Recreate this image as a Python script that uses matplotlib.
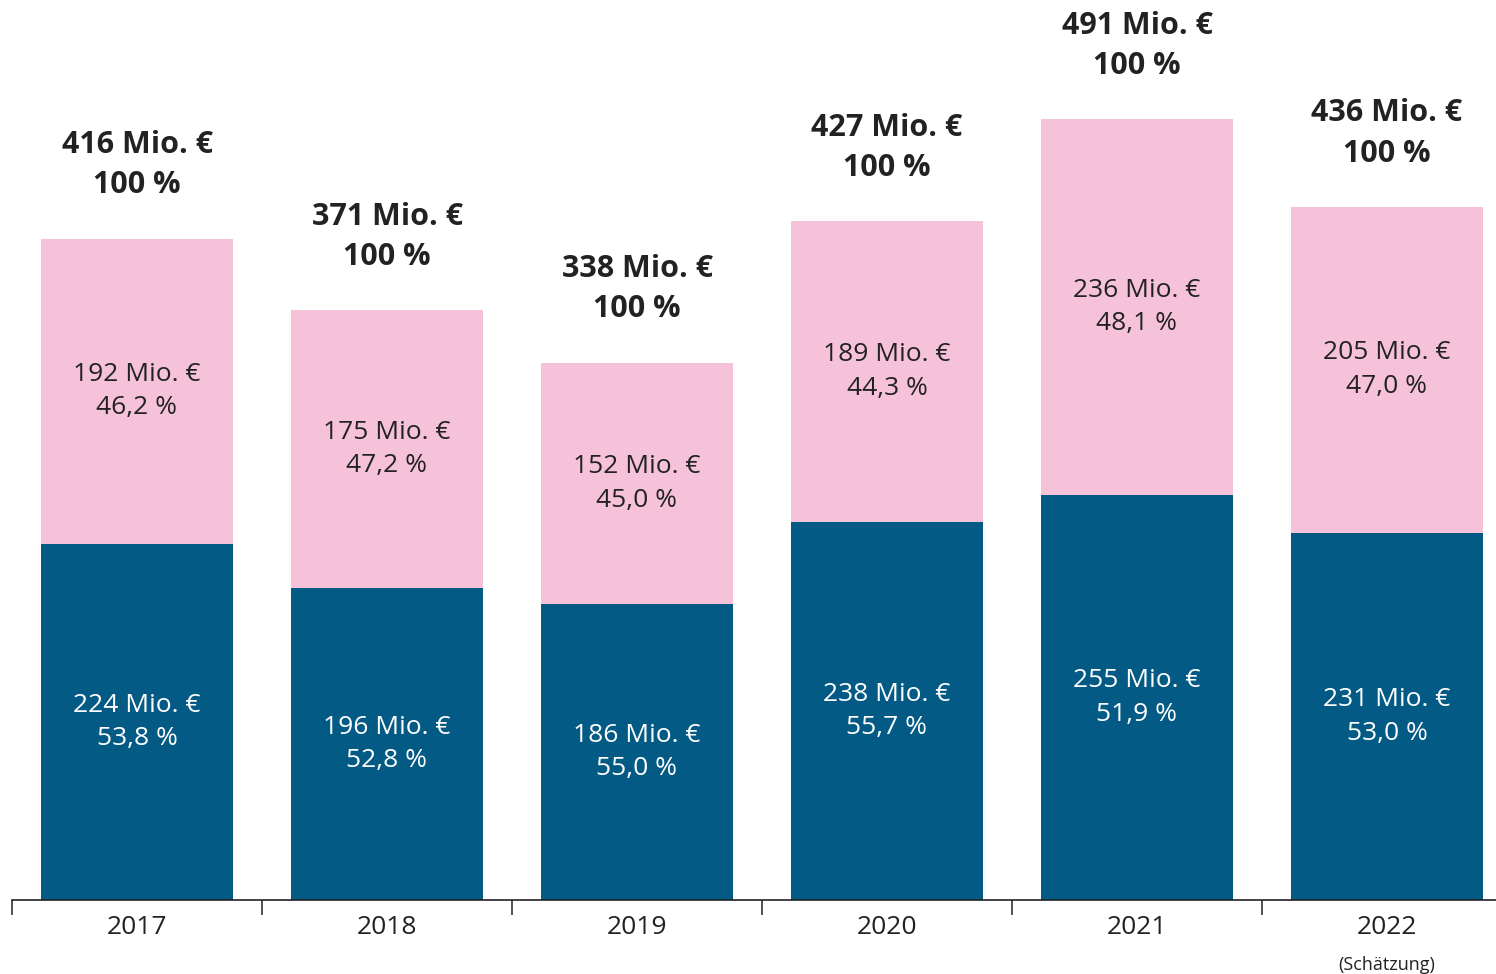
"""
Stacked bars: Aufteilung in Mio. € pro Jahr
"""

import matplotlib
matplotlib.use("Agg")
import matplotlib.pyplot as plt

plt.rcParams['font.family'] = ['Open Sans', 'DejaVu Sans']

years = ['2017', '2018', '2019', '2020', '2021', '2022']
unten = [224, 196, 186, 238, 255, 231]
oben = [192, 175, 152, 189, 236, 205]
gesamt = [416, 371, 338, 427, 491, 436]
unten_pct = ['53,8', '52,8', '55,0', '55,7', '51,9', '53,0']
oben_pct = ['46,2', '47,2', '45,0', '44,3', '48,1', '47,0']

blau = '#035a85'
rosa = '#f6c2da'

fig = plt.figure(figsize=(14.96, 9.74), dpi=100)
ax = fig.add_axes([12 / 1496, 74 / 974, 1 - 12 / 1496, 900 / 974])

x = list(range(len(years)))
ax.bar(x, unten, width=0.77, color=blau)
ax.bar(x, oben, width=0.77, bottom=unten, color=rosa)

for i in x:
    ax.text(i, unten[i] / 2, f'{unten[i]} Mio. €\n{unten_pct[i]} %',
            ha='center', va='center', color='white', fontsize=19, linespacing=1.45)
    ax.text(i, unten[i] + oben[i] / 2, f'{oben[i]} Mio. €\n{oben_pct[i]} %',
            ha='center', va='center', color='#222222', fontsize=19, linespacing=1.45)
    ax.text(i, gesamt[i] + 24, f'{gesamt[i]} Mio. €\n100 %',
            ha='center', va='bottom', color='#222222', fontsize=22,
            fontweight='bold', linespacing=1.45)

ax.set_xlim(-0.5, -0.5 + 1484 / 250)
ax.set_ylim(0, 566)

# Striche zwischen den Kategorien, Jahreszahlen mittig
ax.set_xticks([i - 0.5 for i in range(len(years))])
ax.set_xticklabels([])
ax.set_xticks(x, minor=True)
ax.set_xticklabels(years, minor=True, fontsize=19, color='#222222')
ax.tick_params(axis='x', which='major', length=11, width=1.2, color='#333333')
ax.tick_params(axis='x', which='minor', length=0, pad=11)
ax.set_yticks([])

for s in ['top', 'right', 'left']:
    ax.spines[s].set_visible(False)
ax.spines['bottom'].set_linewidth(1.2)
ax.spines['bottom'].set_color('#222222')

ax.text(5, -41, '(Schätzung)', ha='center', va='center', fontsize=13, color='#222222')

plt.savefig('out.png', dpi=100)
